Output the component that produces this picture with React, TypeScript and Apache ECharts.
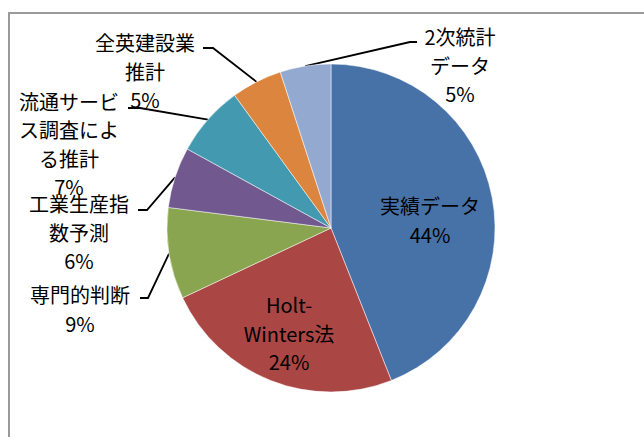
import React, { useEffect, useRef } from "react";
import * as echarts from "echarts";

// Data
const categories = [
  "実績データ",
  "Holt-Winters法",
  "専門的判断",
  "工業生産指数予測",
  "流通サービス調査による推計",
  "全英建設業推計",
  "2次統計データ",
];
const labelTexts = [
  "実績データ",
  "Holt-\nWinters法",
  "専門的判断",
  "工業生産指\n数予測",
  "流通サービ\nス調査によ\nる推計",
  "全英建設業\n推計",
  "2次統計\nデータ",
];
const values = [44, 24, 9, 6, 7, 5, 5];
const colors = ["#4672A8", "#AA4644", "#8AA54F", "#71598F", "#4299B0", "#DC853E", "#94A9CF"];

// Label layout (positions only)
const labelAnchors: [number, number][] = [
  [430, 220],
  [289, 333],
  [80, 309],
  [79, 232],
  [69, 144],
  [145, 71],
  [460, 65],
];
const leaderElbows: [number, number][][] = [
  [],
  [],
  [[148, 298], [140, 298]],
  [[147, 210], [138, 210]],
  [[140, 108], [128, 108]],
  [[213, 48], [203, 48]],
  [[410, 42], [417, 42]],
];

export default function App() {
  const ref = useRef<HTMLDivElement>(null);
  useEffect(() => {
    if (!ref.current) return;
    const chart = echarts.init(ref.current, null, { renderer: "svg" });
    const data = categories.map((name, i) => ({
      name,
      value: values[i],
      itemStyle: { color: colors[i] },
      label: { position: i < 2 ? "inside" : "outside" },
      labelLine: { show: i >= 2 },
    }));
    chart.setOption({
      animation: false,
      backgroundColor: "#ffffff",
      graphic: [
        {
          type: "rect",
          shape: { x: 9, y: 13, width: 720, height: 520 },
          style: { fill: "none", stroke: "#9a9a9a", lineWidth: 2 },
          z: -1,
        },
      ],
      series: [
        {
          type: "pie",
          center: [331, 228],
          radius: 164,
          startAngle: 90,
          clockwise: true,
          avoidLabelOverlap: false,
          itemStyle: { borderColor: "#ffffff", borderWidth: 0.5 },
          label: {
            show: true,
            color: "#000000",
            fontSize: 20,
            lineHeight: 28.5,
            fontFamily: '"Noto Sans CJK JP", "Noto Sans", sans-serif',
            align: "center",
            formatter: (p: any) => labelTexts[p.dataIndex] + "\n" + p.percent + "%",
          },
          labelLine: {
            show: true,
            lineStyle: { color: "#000000", width: 1.8 },
          },
          labelLayout: (params: any) => {
            const i = params.dataIndex;
            const [x, y] = labelAnchors[i];
            const res: any = { x, y, align: "center", verticalAlign: "middle" };
            if (leaderElbows[i].length && params.labelLinePoints) {
              res.labelLinePoints = [params.labelLinePoints[0], ...leaderElbows[i]];
            }
            return res;
          },
          emphasis: { disabled: true },
          data,
        },
      ],
    });
    return () => chart.dispose();
  }, []);
  return (
    <div
      ref={ref}
      style={{ position: "absolute", left: 0, top: 0, width: 644, height: 437 }}
    />
  );
}
